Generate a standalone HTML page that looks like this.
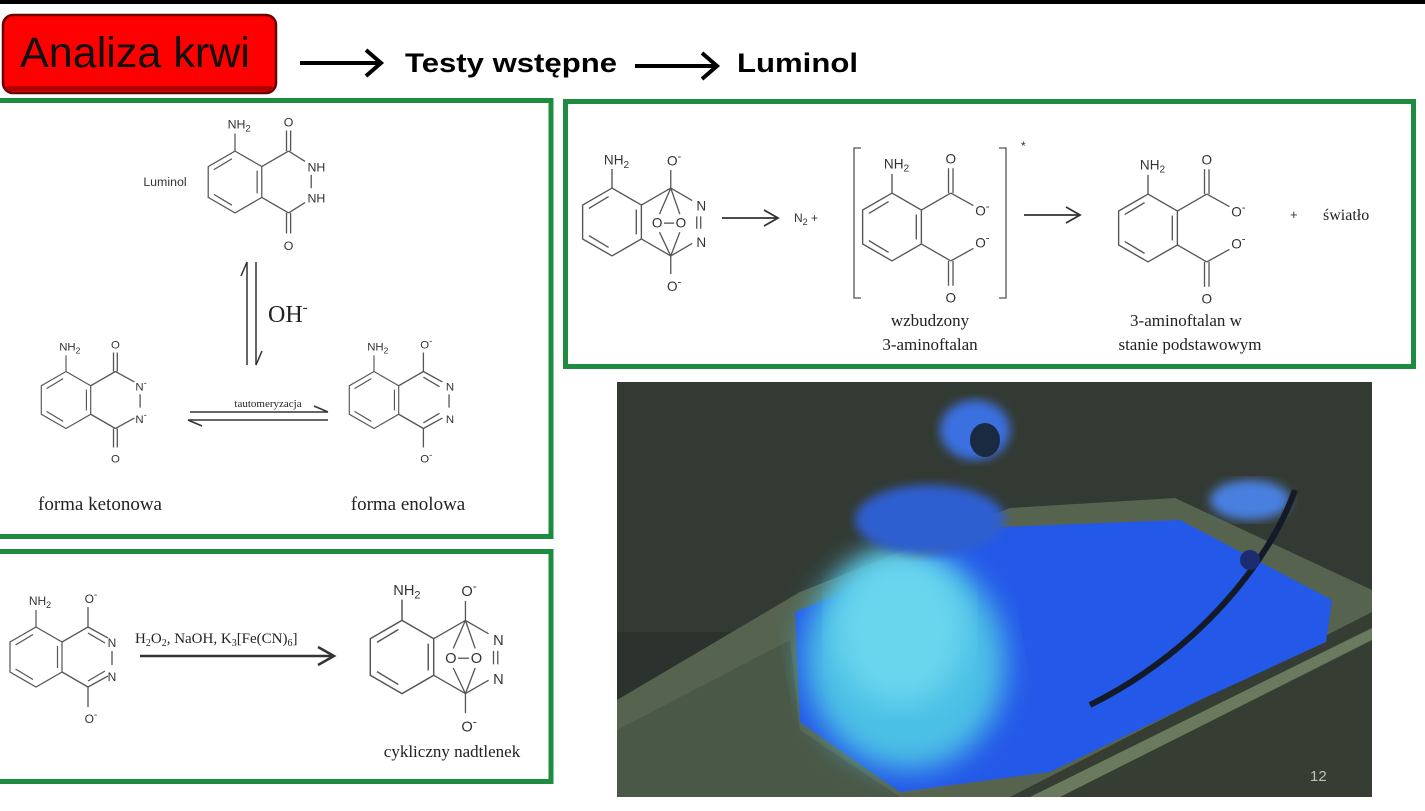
<!DOCTYPE html>
<html><head><meta charset="utf-8"><style>
html,body{margin:0;padding:0;background:#fff;width:1425px;height:811px;overflow:hidden}
svg text{font-family:"Liberation Sans",sans-serif}
.m line,.m polygon,.m path{stroke:#555;stroke-width:1.3;fill:none;vector-effect:non-scaling-stroke}
.m text{font-size:12px;fill:#333;text-anchor:middle}
.ser{font-family:"Liberation Serif",serif !important;fill:#222}
</style></head><body>
<svg width="1425" height="811" viewBox="0 0 1425 811" xmlns="http://www.w3.org/2000/svg">
<defs>
<g id="benz" fill="none" stroke="#555" stroke-width="1.2">
<polygon points="0,-30 26,-15 26,15 0,30 -26,15 -26,-15" fill="none"/>
<line x1="-20.5" y1="-12" x2="-3" y2="-22.5"/>
<line x1="-20.5" y1="12" x2="-3" y2="22.5"/>
<line x1="21.5" y1="-11" x2="21.5" y2="11"/>
<line x1="0" y1="-30" x2="0" y2="-47"/>
</g>
<filter id="bl"><feGaussianBlur stdDeviation="14"/></filter>
<filter id="bl2"><feGaussianBlur stdDeviation="5"/></filter>
<clipPath id="ph"><rect x="617" y="382" width="755" height="415"/></clipPath>
</defs>
<rect width="1425" height="811" fill="#fff"/>
<rect x="0" y="0" width="1425" height="4" fill="#000"/>
<!-- header -->
<rect x="3" y="15" width="273" height="78" rx="10" fill="#ff0000" stroke="#6a0000" stroke-width="2.5"/>
<rect x="6" y="86" width="267" height="5" rx="3" fill="#b00000"/>
<text x="20" y="67" font-size="43" fill="#111" textLength="230" lengthAdjust="spacingAndGlyphs">Analiza krwi</text>
<line x1="300" y1="63" x2="380" y2="63" stroke="#000" stroke-width="4"/>
<polyline points="366,50 381,63 366,76" fill="none" stroke="#000" stroke-width="4"/>
<text x="405" y="72" font-size="27" font-weight="bold" fill="#000" textLength="212" lengthAdjust="spacingAndGlyphs">Testy wstępne</text>
<line x1="635" y1="66" x2="716" y2="66" stroke="#000" stroke-width="4"/>
<polyline points="702,53 717,66 702,79" fill="none" stroke="#000" stroke-width="4"/>
<text x="737" y="72" font-size="27" font-weight="bold" fill="#000" textLength="121" lengthAdjust="spacingAndGlyphs">Luminol</text>
<!-- boxes -->
<rect x="-3" y="100.5" width="554" height="436" fill="none" stroke="#1e8c3e" stroke-width="5"/>
<rect x="-3" y="551.5" width="554" height="230" fill="none" stroke="#1e8c3e" stroke-width="5"/>
<rect x="565.5" y="101.5" width="848" height="265" fill="none" stroke="#1e8c3e" stroke-width="5"/>

<!-- Luminol -->
<g class="m" transform="translate(235,182) scale(1.03)">
<use href="#benz"/>
<line x1="26" y1="-15" x2="52" y2="-30"/><line x1="52" y1="-30" x2="68" y2="-20"/>
<line x1="26" y1="15" x2="52" y2="30"/><line x1="52" y1="30" x2="68" y2="20"/>
<line x1="50" y1="-30" x2="50" y2="-50"/><line x1="54" y1="-30" x2="54" y2="-50"/>
<line x1="50" y1="30" x2="50" y2="50"/><line x1="54" y1="30" x2="54" y2="50"/>
<line x1="74" y1="-7" x2="74" y2="6"/>
<text x="52" y="-54">O</text><text x="52" y="66">O</text>
<text x="79" y="-10">NH</text><text x="79" y="20">NH</text>
<text x="4" y="-52">NH<tspan font-size="9" dy="3">2</tspan></text>
<text x="-68" y="4" font-size="11">Luminol</text>
</g>

<!-- equilibrium -->
<g stroke="#333" stroke-width="1.5" fill="none">
<line x1="247" y1="262" x2="247" y2="365"/><line x1="247" y1="262" x2="241" y2="276"/>
<line x1="256" y1="262" x2="256" y2="365"/><line x1="256" y1="365" x2="262" y2="351"/>
<line x1="190" y1="412" x2="328" y2="412"/><line x1="328" y1="412" x2="314" y2="406"/>
<line x1="188" y1="420" x2="328" y2="420"/><line x1="188" y1="420" x2="202" y2="426"/>
</g>
<text x="268" y="322" class="ser" font-size="24">OH<tspan font-size="15" dy="-10">-</tspan></text>
<text x="268" y="407" class="ser" font-size="11" text-anchor="middle">tautomeryzacja</text>

<!-- ketone -->
<g class="m" transform="translate(66,400) scale(0.95)">
<use href="#benz"/>
<line x1="26" y1="-15" x2="52" y2="-30"/><line x1="52" y1="-30" x2="72" y2="-19"/>
<line x1="26" y1="15" x2="52" y2="30"/><line x1="52" y1="30" x2="72" y2="19"/>
<line x1="50" y1="-30" x2="50" y2="-50"/><line x1="54" y1="-30" x2="54" y2="-50"/>
<line x1="50" y1="30" x2="50" y2="50"/><line x1="54" y1="30" x2="54" y2="50"/>
<line x1="78" y1="-6" x2="78" y2="8"/>
<text x="52" y="-54">O</text><text x="52" y="66">O</text>
<text x="79" y="-10">N<tspan dy="-5" font-size="10">-</tspan></text><text x="79" y="24">N<tspan dy="-5" font-size="10">-</tspan></text>
<text x="4" y="-52">NH<tspan font-size="9" dy="3">2</tspan></text>
</g>
<text x="100" y="510" class="ser" font-size="19" text-anchor="middle">forma ketonowa</text>

<!-- enol -->
<g class="m" transform="translate(374,400) scale(0.95)">
<use href="#benz"/>
<line x1="26" y1="-15" x2="52" y2="-30"/><line x1="52" y1="-30" x2="72" y2="-19"/><line x1="52" y1="-24" x2="69" y2="-14"/>
<line x1="26" y1="15" x2="52" y2="30"/><line x1="52" y1="30" x2="72" y2="19"/><line x1="52" y1="24" x2="69" y2="14"/>
<line x1="52" y1="-30" x2="52" y2="-50"/><line x1="52" y1="30" x2="52" y2="50"/>
<line x1="79" y1="-6" x2="79" y2="8"/>
<text x="55" y="-54">O<tspan dy="-5" font-size="10">-</tspan></text><text x="55" y="66">O<tspan dy="-5" font-size="10">-</tspan></text>
<text x="80" y="-10">N</text><text x="80" y="24">N</text>
<text x="4" y="-52">NH<tspan font-size="9" dy="3">2</tspan></text>
</g>
<text x="408" y="510" class="ser" font-size="19" text-anchor="middle">forma enolowa</text>

<!-- bottom enol -->
<g class="m" transform="translate(36,657) scale(1.0)">
<use href="#benz"/>
<line x1="26" y1="-15" x2="52" y2="-30"/><line x1="52" y1="-30" x2="72" y2="-19"/><line x1="52" y1="-24" x2="69" y2="-14"/>
<line x1="26" y1="15" x2="52" y2="30"/><line x1="52" y1="30" x2="72" y2="19"/><line x1="52" y1="24" x2="69" y2="14"/>
<line x1="52" y1="-30" x2="52" y2="-50"/><line x1="52" y1="30" x2="52" y2="50"/>
<line x1="76" y1="-6" x2="76" y2="8"/>
<text x="55" y="-54">O<tspan dy="-5" font-size="10">-</tspan></text><text x="55" y="66">O<tspan dy="-5" font-size="10">-</tspan></text>
<text x="76" y="-10">N</text><text x="76" y="24">N</text>
<text x="4" y="-52">NH<tspan font-size="9" dy="3">2</tspan></text>
</g>
<line x1="140" y1="656" x2="334" y2="656" stroke="#333" stroke-width="2.5"/>
<polyline points="318,647 334,656 318,665" fill="none" stroke="#333" stroke-width="2.5"/>
<text x="135" y="643" class="ser" font-size="15">H<tspan font-size="10" dy="3">2</tspan><tspan dy="-3">O</tspan><tspan font-size="10" dy="3">2</tspan><tspan dy="-3">, NaOH, K</tspan><tspan font-size="10" dy="3">3</tspan><tspan dy="-3">[Fe(CN)</tspan><tspan font-size="10" dy="3">6</tspan><tspan dy="-3">]</tspan></text>

<!-- cyclic peroxide bottom -->
<g class="m" transform="translate(402,657) scale(1.22)">
<use href="#benz"/>
<line x1="26" y1="-15" x2="52" y2="-30"/><line x1="26" y1="15" x2="52" y2="30"/>
<line x1="52" y1="-30" x2="71" y2="-19"/><line x1="52" y1="30" x2="71" y2="19"/>
<line x1="75" y1="-5" x2="75" y2="6"/><line x1="78.5" y1="-5" x2="78.5" y2="6"/>
<line x1="52" y1="-30" x2="52" y2="-46"/><line x1="52" y1="30" x2="52" y2="46"/>
<line x1="52" y1="-30" x2="42" y2="-7"/><line x1="52" y1="30" x2="60" y2="9"/>
<line x1="52" y1="-30" x2="60" y2="-7"/><line x1="52" y1="30" x2="42" y2="9"/>
<line x1="46" y1="1" x2="55" y2="1"/>
<text x="40" y="5">O</text><text x="61" y="5">O</text>
<text x="79" y="-10">N</text><text x="79" y="22">N</text>
<text x="55" y="-50">O<tspan dy="-5" font-size="10">-</tspan></text><text x="55" y="61">O<tspan dy="-5" font-size="10">-</tspan></text>
<text x="4" y="-51">NH<tspan font-size="9" dy="3">2</tspan></text>
</g>
<text x="452" y="757" class="ser" font-size="17" text-anchor="middle">cykliczny nadtlenek</text>

<!-- top right reactant -->
<g class="m" transform="translate(612,222) scale(1.13)">
<use href="#benz"/>
<line x1="26" y1="-15" x2="52" y2="-30"/><line x1="26" y1="15" x2="52" y2="30"/>
<line x1="52" y1="-30" x2="71" y2="-19"/><line x1="52" y1="30" x2="71" y2="19"/>
<line x1="75" y1="-5" x2="75" y2="6"/><line x1="78.5" y1="-5" x2="78.5" y2="6"/>
<line x1="52" y1="-30" x2="52" y2="-46"/><line x1="52" y1="30" x2="52" y2="46"/>
<line x1="52" y1="-30" x2="42" y2="-7"/><line x1="52" y1="30" x2="60" y2="9"/>
<line x1="52" y1="-30" x2="60" y2="-7"/><line x1="52" y1="30" x2="42" y2="9"/>
<line x1="46" y1="1" x2="55" y2="1"/>
<text x="40" y="5">O</text><text x="61" y="5">O</text>
<text x="79" y="-10">N</text><text x="79" y="22">N</text>
<text x="55" y="-50">O<tspan dy="-5" font-size="10">-</tspan></text><text x="55" y="61">O<tspan dy="-5" font-size="10">-</tspan></text>
<text x="4" y="-51">NH<tspan font-size="9" dy="3">2</tspan></text>
</g>
<line x1="722" y1="218" x2="778" y2="218" stroke="#333" stroke-width="1.8"/>
<polyline points="764,210 778,218 764,226" fill="none" stroke="#333" stroke-width="1.8"/>
<text x="794" y="222" font-size="12" fill="#333">N<tspan font-size="9" dy="3">2</tspan><tspan dy="-3">  +</tspan></text>
<path d="M861,148 H854 V298 H861 M999,148 H1006 V298 H999" fill="none" stroke="#555" stroke-width="1.3"/>
<text x="1021" y="150" font-size="12" fill="#333">*</text>

<!-- aminophthalate -->
<g class="m" transform="translate(892,227) scale(1.13)">
<use href="#benz"/>
<line x1="26" y1="-15" x2="52" y2="-30"/><line x1="26" y1="15" x2="52" y2="30"/>
<line x1="50" y1="-30" x2="50" y2="-52"/><line x1="54" y1="-30" x2="54" y2="-52"/>
<line x1="50" y1="30" x2="50" y2="52"/><line x1="54" y1="30" x2="54" y2="52"/>
<line x1="52" y1="-30" x2="72" y2="-19"/><line x1="52" y1="30" x2="72" y2="19"/>
<text x="52" y="-56">O</text><text x="52" y="67">O</text>
<text x="80" y="-10">O<tspan dy="-5" font-size="10">-</tspan></text><text x="80" y="18">O<tspan dy="-5" font-size="10">-</tspan></text>
<text x="4" y="-52">NH<tspan font-size="9" dy="3">2</tspan></text>
</g>
<line x1="1024" y1="215" x2="1080" y2="215" stroke="#333" stroke-width="1.8"/>
<polyline points="1066,207 1080,215 1066,223" fill="none" stroke="#333" stroke-width="1.8"/>
<g class="m" transform="translate(1148,228) scale(1.13)">
<use href="#benz"/>
<line x1="26" y1="-15" x2="52" y2="-30"/><line x1="26" y1="15" x2="52" y2="30"/>
<line x1="50" y1="-30" x2="50" y2="-52"/><line x1="54" y1="-30" x2="54" y2="-52"/>
<line x1="50" y1="30" x2="50" y2="52"/><line x1="54" y1="30" x2="54" y2="52"/>
<line x1="52" y1="-30" x2="72" y2="-19"/><line x1="52" y1="30" x2="72" y2="19"/>
<text x="52" y="-56">O</text><text x="52" y="67">O</text>
<text x="80" y="-10">O<tspan dy="-5" font-size="10">-</tspan></text><text x="80" y="18">O<tspan dy="-5" font-size="10">-</tspan></text>
<text x="4" y="-52">NH<tspan font-size="9" dy="3">2</tspan></text>
</g>
<text x="1290" y="219" font-size="13" fill="#333">+</text>
<text x="1323" y="220" class="ser" font-size="16">światło</text>
<text x="930" y="326" class="ser" font-size="17" text-anchor="middle">wzbudzony</text>
<text x="930" y="350" class="ser" font-size="17" text-anchor="middle">3-aminoftalan</text>
<text x="1186" y="326" class="ser" font-size="17" text-anchor="middle">3-aminoftalan w</text>
<text x="1190" y="350" class="ser" font-size="17" text-anchor="middle">stanie podstawowym</text>

<!-- photo -->
<g clip-path="url(#ph)">
<rect x="617" y="382" width="755" height="415" fill="#2c322d"/>
<rect x="617" y="382" width="755" height="250" fill="#3a4239" opacity="0.5"/>
<polygon points="617,700 800,592 1010,508 1175,498 1372,590 1372,797 617,797" fill="#56644f"/>
<polygon points="617,730 790,640 800,730 900,797 617,797" fill="#4a5847"/>
<polygon points="1010,797 1372,612 1372,797" fill="#363d33"/>
<polygon points="1030,797 1372,628 1372,640 1060,797" fill="#6a7a5e"/>
<polygon points="795,612 1000,527 1180,520 1332,600 1326,642 1200,700 1050,772 900,792 800,722" fill="#2458e8"/>
<ellipse cx="905" cy="660" rx="100" ry="110" fill="#4cc0e6" filter="url(#bl)" transform="rotate(-10 905 660)"/>
<ellipse cx="900" cy="630" rx="65" ry="75" fill="#6ad6ee" filter="url(#bl)"/>
<ellipse cx="930" cy="520" rx="75" ry="35" fill="#2f5fd0" filter="url(#bl2)"/>
<ellipse cx="975" cy="430" rx="35" ry="30" fill="#3b70e0" filter="url(#bl2)"/>
<ellipse cx="985" cy="440" rx="15" ry="17" fill="#1a2a40"/>
<ellipse cx="1250" cy="500" rx="40" ry="20" fill="#4a80e0" filter="url(#bl2)"/>
<path d="M1295,490 C1270,560 1200,650 1090,705" fill="none" stroke="#141a28" stroke-width="6"/>
<circle cx="1250" cy="560" r="10" fill="#1b2c70"/>
<text x="1310" y="781" font-size="15" fill="#b8c0b8">12</text>
</g>
</svg>
</body></html>
